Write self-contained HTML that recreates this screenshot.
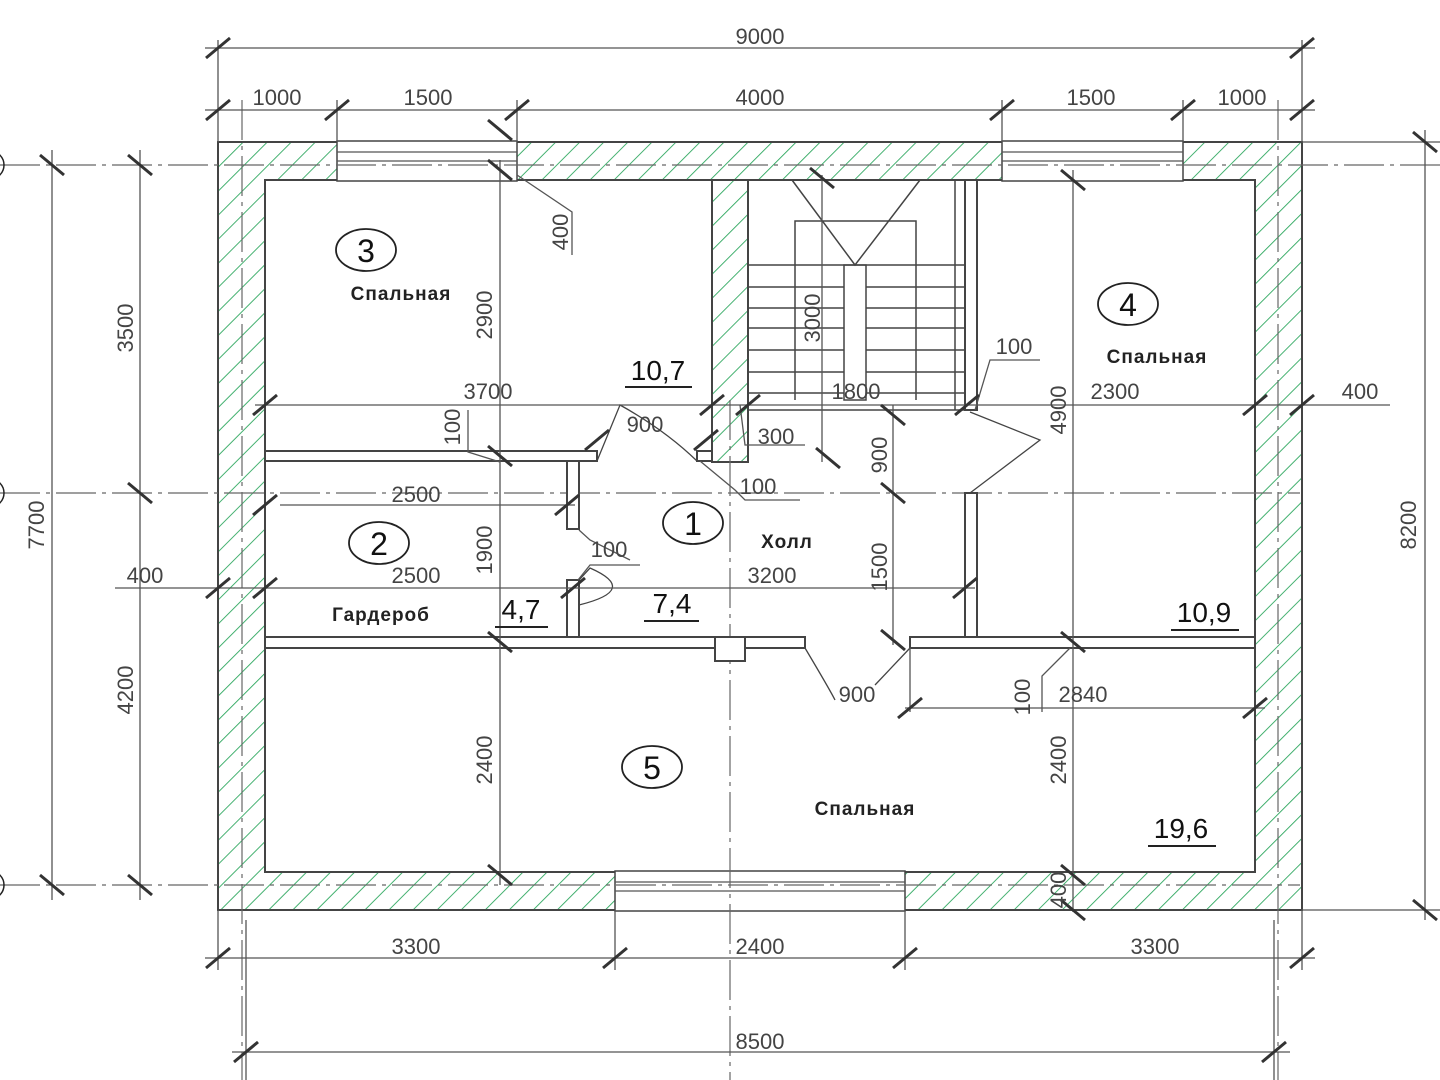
<!DOCTYPE html>
<html><head><meta charset="utf-8"><style>
html,body{margin:0;padding:0;background:#fff;}
svg{display:block;}
text{font-family:"Liberation Sans","DejaVu Sans",sans-serif;fill:#444;}
</style></head><body>
<svg width="1440" height="1080" viewBox="0 0 1440 1080" xmlns="http://www.w3.org/2000/svg">
<defs>
<pattern id="h" patternUnits="userSpaceOnUse" width="17" height="17" patternTransform="rotate(45)">
<line x1="0" y1="0" x2="0" y2="17" stroke="#2fa860" stroke-width="1.8"/>
</pattern>
<line id="t" x1="-12" y1="10" x2="12" y2="-10" stroke="#333" stroke-width="3"/>
<line id="v" x1="-12" y1="-10" x2="12" y2="10" stroke="#333" stroke-width="3"/>
</defs>

<path d="M218 142H1302V910H218Z M265 180V872H1255V180Z" fill="url(#h)" fill-rule="evenodd" stroke="#444" stroke-width="2"/>
<rect x="712" y="180" width="36" height="282" fill="url(#h)" stroke="#444" stroke-width="2"/>
<g fill="#fff" stroke="#444" stroke-width="1.5">
<rect x="337" y="141" width="180" height="40"/>
<rect x="1002" y="141" width="181" height="40"/>
<rect x="615" y="871" width="290" height="40"/>
</g>
<g stroke="#555" stroke-width="1.2">
<line x1="337" y1="152" x2="517" y2="152"/><line x1="337" y1="161" x2="517" y2="161"/>
<line x1="1002" y1="152" x2="1183" y2="152"/><line x1="1002" y1="161" x2="1183" y2="161"/>
<line x1="615" y1="882" x2="905" y2="882"/><line x1="615" y1="891" x2="905" y2="891"/>
</g>

<g stroke="#666" stroke-width="1.2" stroke-dasharray="40 6 4 6" fill="none">
<line x1="0" y1="165" x2="1440" y2="165"/>
<line x1="0" y1="493" x2="1300" y2="493"/>
<line x1="0" y1="885" x2="1300" y2="885"/>
<line x1="242" y1="100" x2="242" y2="1080"/>
<line x1="1278" y1="100" x2="1278" y2="1080"/>
<line x1="730" y1="400" x2="730" y2="1080"/>
</g>
<g fill="none" stroke="#222" stroke-width="1.5">
<circle cx="-10" cy="165" r="14"/><circle cx="-10" cy="493" r="14"/><circle cx="-10" cy="885" r="14"/>
</g>

<g fill="#fff" stroke="#444" stroke-width="2">
<rect x="265" y="451" width="332" height="10"/>
<rect x="265" y="637" width="540" height="11"/>
<rect x="910" y="637" width="345" height="11"/>
<rect x="567" y="461" width="12" height="68"/>
<rect x="567" y="580" width="12" height="57"/>
<rect x="965" y="180" width="12" height="230"/>
<rect x="965" y="493" width="12" height="144"/>
<rect x="715" y="637" width="30" height="24"/>
<rect x="697" y="451" width="15" height="10"/>
</g>
<g fill="none" stroke="#444" stroke-width="1.5">
<rect x="748" y="180" width="217" height="230"/>
<polyline points="795,400 795,221 916,221 916,400"/>
<polyline points="792,180 855,265 920,180"/>
<rect x="844" y="265" width="22" height="135"/>
<line x1="748" y1="265" x2="965" y2="265"/>
<line x1="748" y1="287" x2="844" y2="287"/><line x1="866" y1="287" x2="965" y2="287"/>
<line x1="748" y1="308" x2="844" y2="308"/><line x1="866" y1="308" x2="965" y2="308"/>
<line x1="748" y1="328" x2="844" y2="328"/><line x1="866" y1="328" x2="965" y2="328"/>
<line x1="748" y1="350" x2="844" y2="350"/><line x1="866" y1="350" x2="965" y2="350"/>
<line x1="748" y1="372" x2="844" y2="372"/><line x1="866" y1="372" x2="965" y2="372"/>
<line x1="748" y1="393" x2="844" y2="393"/><line x1="866" y1="393" x2="965" y2="393"/>
<line x1="955" y1="180" x2="955" y2="410"/>
</g>
<g fill="none" stroke="#444" stroke-width="1.3">
<path d="M597 461 L620 405 Q665 430 697 461"/>
<path d="M970 412 L1040 440 L970 493"/>
<path d="M579 580 L590 568 Q640 590 579 605"/>
<path d="M805 648 Q830 690 835 700"/>
<path d="M910 648 L875 685"/>
</g>

<g stroke="#555" stroke-width="1.3" fill="none">
<line x1="205" y1="48" x2="1315" y2="48"/>
<line x1="205" y1="110" x2="1315" y2="110"/>
<line x1="218" y1="40" x2="218" y2="142"/><line x1="1302" y1="40" x2="1302" y2="142"/>
<line x1="337" y1="100" x2="337" y2="142"/><line x1="517" y1="100" x2="517" y2="142"/>
<line x1="1002" y1="100" x2="1002" y2="142"/><line x1="1183" y1="100" x2="1183" y2="142"/>
<line x1="205" y1="958" x2="1315" y2="958"/>
<line x1="232" y1="1052" x2="1290" y2="1052"/>
<line x1="218" y1="910" x2="218" y2="970"/><line x1="1302" y1="910" x2="1302" y2="970"/>
<line x1="615" y1="910" x2="615" y2="970"/><line x1="905" y1="910" x2="905" y2="970"/>
<line x1="246" y1="920" x2="246" y2="1080"/><line x1="1274" y1="920" x2="1274" y2="1080"/>
<line x1="52" y1="150" x2="52" y2="900"/>
<line x1="140" y1="150" x2="140" y2="900"/>
<line x1="1425" y1="130" x2="1425" y2="920"/>
<line x1="1302" y1="142" x2="1440" y2="142"/><line x1="1302" y1="910" x2="1440" y2="910"/>
<line x1="255" y1="405" x2="1390" y2="405"/>
<line x1="280" y1="505" x2="575" y2="505"/>
<line x1="115" y1="588" x2="975" y2="588"/>
<line x1="905" y1="708" x2="1265" y2="708"/>
<line x1="500" y1="160" x2="500" y2="885"/>
<line x1="1073" y1="170" x2="1073" y2="912"/>
<line x1="893" y1="405" x2="893" y2="645"/>
<line x1="822" y1="175" x2="822" y2="462"/>
<line x1="910" y1="648" x2="910" y2="712"/>
<polyline points="517,175 572,212 572,255"/>
<polyline points="468,410 468,452 500,462"/>
<polyline points="975,410 990,360 1040,360"/>
<polyline points="700,461 735,490 745,500 800,500"/>
<polyline points="740,405 745,445 805,445"/>
<polyline points="579,530 590,540 630,560"/>
<polyline points="578,580 590,565 640,565"/>
<polyline points="1070,648 1042,676 1042,712"/>
</g>
<g>
<use href="#t" x="218" y="48"/><use href="#t" x="1302" y="48"/>
<use href="#t" x="218" y="110"/><use href="#t" x="337" y="110"/><use href="#t" x="517" y="110"/>
<use href="#t" x="1002" y="110"/><use href="#t" x="1183" y="110"/><use href="#t" x="1302" y="110"/>
<use href="#t" x="218" y="958"/><use href="#t" x="615" y="958"/><use href="#t" x="905" y="958"/><use href="#t" x="1302" y="958"/>
<use href="#t" x="246" y="1052"/><use href="#t" x="1274" y="1052"/>
<use href="#v" x="52" y="165"/><use href="#v" x="52" y="885"/>
<use href="#v" x="140" y="165"/><use href="#v" x="140" y="493"/><use href="#v" x="140" y="885"/>
<use href="#v" x="1425" y="142"/><use href="#v" x="1425" y="910"/>
<use href="#t" x="265" y="405"/><use href="#t" x="712" y="405"/><use href="#t" x="748" y="405"/><use href="#t" x="967" y="405"/><use href="#t" x="1255" y="405"/><use href="#t" x="1302" y="405"/>
<use href="#t" x="265" y="505"/><use href="#t" x="567" y="505"/>
<use href="#t" x="218" y="588"/><use href="#t" x="265" y="588"/><use href="#t" x="573" y="588"/><use href="#t" x="965" y="588"/>
<use href="#t" x="910" y="708"/><use href="#t" x="1255" y="708"/>
<use href="#t" x="597" y="440"/><use href="#t" x="706" y="440"/>
<use href="#v" x="500" y="170"/><use href="#v" x="500" y="456"/><use href="#v" x="500" y="642"/><use href="#v" x="500" y="875"/>
<use href="#v" x="1073" y="180"/><use href="#v" x="1073" y="642"/><use href="#v" x="1073" y="875"/><use href="#v" x="1073" y="910"/>
<use href="#v" x="893" y="415"/><use href="#v" x="893" y="493"/><use href="#v" x="893" y="640"/>
<use href="#v" x="822" y="178"/><use href="#v" x="828" y="458"/>
<use href="#v" x="500" y="130"/>
</g>

<g font-size="22" text-anchor="middle">
<text x="760" y="44">9000</text>
<text x="277" y="105">1000</text><text x="428" y="105">1500</text><text x="760" y="105">4000</text>
<text x="1091" y="105">1500</text><text x="1242" y="105">1000</text>
<text x="416" y="954">3300</text><text x="760" y="954">2400</text><text x="1155" y="954">3300</text>
<text x="760" y="1049">8500</text>
<text x="488" y="399">3700</text><text x="856" y="399">1800</text><text x="1115" y="399">2300</text><text x="1360" y="399">400</text>
<text x="645" y="432">900</text><text x="776" y="444">300</text><text x="758" y="494">100</text>
<text x="1014" y="354">100</text>
<text x="416" y="502">2500</text><text x="609" y="557">100</text>
<text x="145" y="583">400</text><text x="416" y="583">2500</text><text x="772" y="583">3200</text>
<text x="857" y="702">900</text><text x="1083" y="702">2840</text>
</g>
<g font-size="22" text-anchor="middle">
<text transform="translate(44,525) rotate(-90)">7700</text>
<text transform="translate(133,328) rotate(-90)">3500</text>
<text transform="translate(133,690) rotate(-90)">4200</text>
<text transform="translate(1416,525) rotate(-90)">8200</text>
<text transform="translate(492,315) rotate(-90)">2900</text>
<text transform="translate(492,550) rotate(-90)">1900</text>
<text transform="translate(492,760) rotate(-90)">2400</text>
<text transform="translate(1066,410) rotate(-90)">4900</text>
<text transform="translate(1066,760) rotate(-90)">2400</text>
<text transform="translate(1066,890) rotate(-90)">400</text>
<text transform="translate(1030,697) rotate(-90)">100</text>
<text transform="translate(887,455) rotate(-90)">900</text>
<text transform="translate(887,567) rotate(-90)">1500</text>
<text transform="translate(820,318) rotate(-90)">3000</text>
<text transform="translate(568,232) rotate(-90)">400</text>
<text transform="translate(460,427) rotate(-90)">100</text>
</g>

<g font-size="28" text-anchor="middle">
<text x="658" y="380" style="fill:#111">10,7</text>
<text x="1204" y="622" style="fill:#111">10,9</text>
<text x="1181" y="838" style="fill:#111">19,6</text>
<text x="521" y="619" style="fill:#111">4,7</text>
<text x="672" y="613" style="fill:#111">7,4</text>
</g>
<g stroke="#222" stroke-width="2">
<line x1="625" y1="387" x2="692" y2="387"/>
<line x1="1171" y1="630" x2="1239" y2="630"/>
<line x1="1148" y1="846" x2="1216" y2="846"/>
<line x1="495" y1="627" x2="548" y2="627"/>
<line x1="644" y1="621" x2="699" y2="621"/>
</g>
<g fill="none" stroke="#222" stroke-width="1.8">
<ellipse cx="366" cy="250" rx="30" ry="21"/>
<ellipse cx="379" cy="543" rx="30" ry="21"/>
<ellipse cx="693" cy="523" rx="30" ry="21"/>
<ellipse cx="1128" cy="304" rx="30" ry="21"/>
<ellipse cx="652" cy="767" rx="30" ry="21"/>
</g>
<g font-size="32" text-anchor="middle">
<text x="366" y="262" style="fill:#111">3</text>
<text x="379" y="555" style="fill:#111">2</text>
<text x="693" y="535" style="fill:#111">1</text>
<text x="1128" y="316" style="fill:#111">4</text>
<text x="652" y="779" style="fill:#111">5</text>
</g>
<g font-size="19" text-anchor="middle" font-weight="bold" letter-spacing="1">
<text x="401" y="300" style="fill:#222">Спальная</text>
<text x="1157" y="363" style="fill:#222">Спальная</text>
<text x="787" y="548" style="fill:#222">Холл</text>
<text x="381" y="621" style="fill:#222">Гардероб</text>
<text x="865" y="815" style="fill:#222">Спальная</text>
</g>
</svg>
</body></html>
